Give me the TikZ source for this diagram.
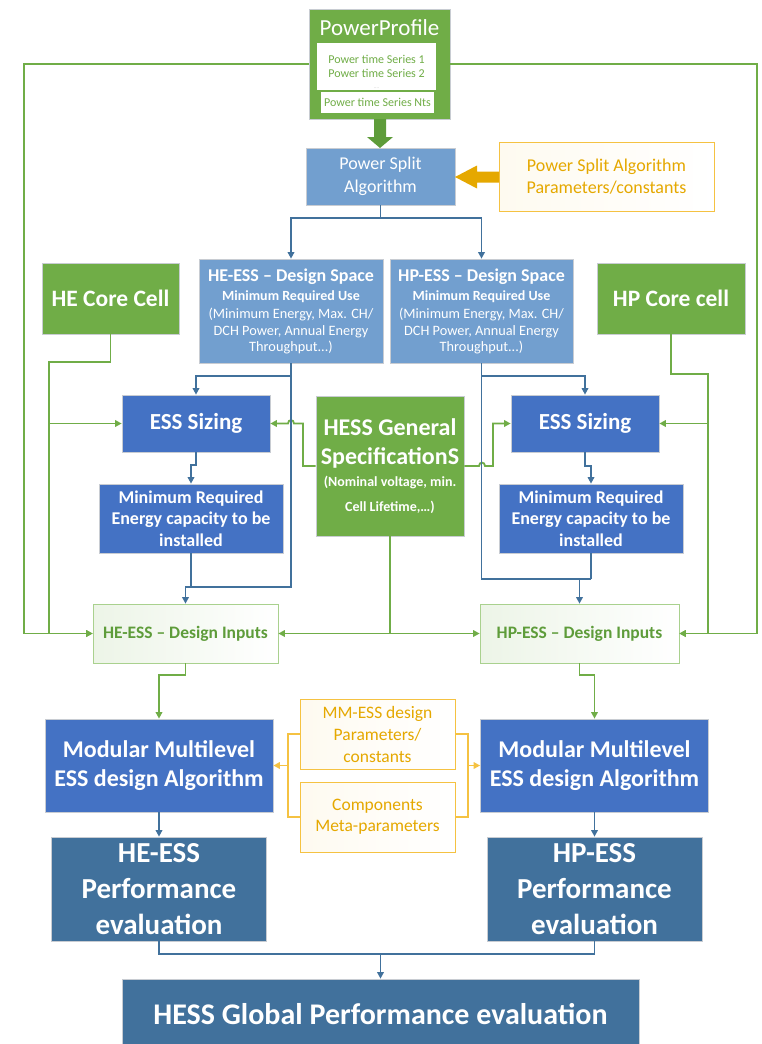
\documentclass[tikz,border=0pt]{standalone}
\usepackage{fontspec}
\setmainfont{Carlito}
\usetikzlibrary{arrows.meta}
\definecolor{grn}{HTML}{70AD47}
\definecolor{grnd}{HTML}{5E9C3A}
\definecolor{grnl}{HTML}{A9D18E}
\definecolor{lblue}{HTML}{729FCF}
\definecolor{mblue}{HTML}{4472C4}
\definecolor{sblue}{HTML}{41719C}
\definecolor{gold}{HTML}{F5C242}
\definecolor{goldt}{HTML}{E5A800}
\definecolor{edge}{HTML}{C8CCD2}
\newcommand\fsz[2]{\fontsize{#1}{#2}\selectfont}
\begin{document}
\begin{tikzpicture}[x=1pt,y=-1pt,
  wh/.style 2 args={minimum width=#1pt,minimum height=#2pt},
  box/.style={draw=edge,line width=0.7pt,inner sep=0pt,align=center,text=white},
  tx/.style={inner sep=0pt,align=center},
  gl/.style={draw=grn,line width=1.8pt},
  bl/.style={draw=sblue,line width=1.8pt},
  ol/.style={draw=gold,line width=1.8pt},
  tip/.style={-{Triangle[length=6.5pt,width=6.5pt]}}]
\useasboundingbox (0,0) rectangle (762,1044);

% ---------- power profile ----------
\node[box,fill=grn,wh={141}{110}] (pp) at (379.5,64) {};
\node[fill=white,inner sep=0pt,wh={119}{47}] (ppa) at (376.5,66.5) {};
\node[fill=white,inner sep=0pt,wh={113}{21}] (ppb) at (377.5,102.5) {};
\node[tx,text=white,font=\fsz{23}{25}] (ppt) at (379.5,28) {PowerProfile};
\node[tx,text=grn,font=\fsz{12}{14}] (pps) at (376.5,66) {Power time Series 1\\Power time Series 2};
\node[tx,text=gray!50,font=\fsz{5}{6}] (ppd) at (376.5,88) {....};
\node[tx,text=grn,font=\fsz{12}{14}] (ppn) at (377.5,102) {Power time Series Nts};

% ---------- power split ----------
\node[box,fill=lblue,wh={149}{57},font=\fsz{18}{23}] (psa) at (380.5,176.5) {Power Split\\Algorithm};
\node[box,draw=gold,left color=gold!8,right color=white,wh={215}{69},text=goldt,font=\fsz{18}{22}] (psp) at (606.5,176.5) {Power Split Algorithm\\Parameters/constants};

% block arrows
\fill[grnd] (374,119) -- (386,119) -- (386,137) -- (393,137) -- (380,148) -- (367,137) -- (374,137) -- cycle;
\fill[goldt] (499,171.5) -- (477,171.5) -- (477,165.5) -- (455,177) -- (477,188.5) -- (477,182.5) -- (499,182.5) -- cycle;

% ---------- design spaces ----------
\node[box,fill=lblue,wh={184}{104}] (heds) at (291,311) {};
\node[box,fill=lblue,wh={183}{104}] (hpds) at (481.5,311) {};
\foreach \n/\cx/\lab in {a/291/HE, b/481.5/HP}{
  \node[tx,text=white,font=\fsz{18}{20}\bfseries] (dst\n) at (\cx,277) {\lab-ESS -- Design Space};
  \node[tx,text=white,font=\fsz{14}{15}\bfseries] (dsu\n) at (\cx,297) {Minimum Required Use};
  \node[tx,text=white,font=\fsz{14.3}{16.5}] (dsl\n) at (\cx,331) {(Minimum Energy, Max. CH/\\DCH Power, Annual Energy\\Throughput...)};
}

% ---------- core cells ----------
\node[box,fill=grn,wh={137}{71},font=\fsz{23.5}{26}\bfseries] (hecore) at (110.5,298.5) {HE Core Cell};
\node[box,fill=grn,wh={148}{71},font=\fsz{23.5}{26}\bfseries] (hpcore) at (671,298.5) {HP Core cell};

% ---------- sizing ----------
\node[box,fill=mblue,wh={148}{57},font=\fsz{23}{24}\bfseries] (hesz) at (196,423.5) {ESS Sizing};
\node[box,fill=mblue,wh={148}{57},font=\fsz{23}{24}\bfseries] (hpsz) at (585,423.5) {ESS Sizing};
\node[box,fill=mblue,wh={184}{69},font=\fsz{18}{21.5}\bfseries] (hemin) at (191,518.5) {Minimum Required\\Energy capacity to be\\installed};
\node[box,fill=mblue,wh={184}{69},font=\fsz{18}{21.5}\bfseries] (hpmin) at (591,518.5) {Minimum Required\\Energy capacity to be\\installed};

% ---------- general specifications ----------
\node[box,fill=grn,wh={148}{140}] (hess) at (390,466) {};
\node[tx,text=white,font=\fsz{24}{29}\bfseries] (hesst) at (390,443.5) {HESS General\\SpecificationS};
\node[tx,text=white,font=\fsz{14}{25}\bfseries] (hesss) at (390,494.5) {(Nominal voltage, min.\\Cell Lifetime,\dots)};

% ---------- design inputs ----------
\node[box,draw=grnl,left color=grn!13,right color=white,wh={185}{59},text=grnd,font=\fsz{17.5}{20}\bfseries] (hedi) at (185.5,633.5) {HE-ESS -- Design Inputs};
\node[box,draw=grnl,left color=grn!13,right color=white,wh={199}{59},text=grnd,font=\fsz{17.5}{20}\bfseries] (hpdi) at (579.5,633.5) {HP-ESS -- Design Inputs};

% ---------- modular multilevel ----------
\node[box,fill=mblue,wh={228}{93},font=\fsz{24}{29}\bfseries] (hemm) at (159,765.5) {Modular Multilevel\\ESS design Algorithm};
\node[box,fill=mblue,wh={228}{93},font=\fsz{24}{29}\bfseries] (hpmm) at (594.5,765.5) {Modular Multilevel\\ESS design Algorithm};
\node[box,draw=gold,left color=gold!8,right color=white,wh={155}{70},text=goldt,font=\fsz{17.5}{22}] (mmp) at (377.5,734) {MM-ESS design\\Parameters/\\constants};
\node[box,draw=gold,left color=gold!8,right color=white,wh={155}{70},text=goldt,font=\fsz{17.5}{21}] (comp) at (377.5,817) {Components\\Meta-parameters};

% ---------- performance ----------
\node[box,fill=sblue,wh={215}{104},font=\fsz{29}{36}\bfseries] (heperf) at (159,889) {HE-ESS\\Performance\\evaluation};
\node[box,fill=sblue,wh={215}{104},font=\fsz{29}{36}\bfseries] (hpperf) at (594.5,889) {HP-ESS\\Performance\\evaluation};
\node[box,fill=sblue,wh={517}{70},font=\fsz{30}{32}\bfseries] (glob) at (380.5,1014) {HESS Global Performance evaluation};

% ---------- green connectors ----------
\draw[gl,tip] (pp.west) -- ++(-285,0) |- (hedi.west);
\draw[gl,tip] (pp.east) -- ++(307,0) |- (hpdi.east);
\draw[gl,tip] (hecore.south) |- (49,362) |- (hedi.west);
\coordinate (lj) at (49,423.5);
\draw[gl,tip] (lj) -- (hesz.west);
\draw[gl,tip] (hpcore.south) |- (708,374) |- (hpdi.east);
\coordinate (rj) at (708,423.5);
\draw[gl,tip] (rj) -- (hpsz.east);
\draw[gl,tip] (hess.west) -- (303,466) -- (303,423.5) -- (294,423.5)
   .. controls (294,419) and (288,419) .. (288,423.5) -- (hesz.east);
\draw[gl,tip] (hess.east) -- (479,466) .. controls (479,461.5) and (485,461.5) .. (485,466)
   -- (493,466) -- (493,423.5) -- (hpsz.west);
\coordinate (gj) at (390,633.5);
\draw[gl] (hess.south) -- (gj);
\draw[gl,tip] (gj) -- (hedi.east);
\draw[gl,tip] (gj) -- (hpdi.west);
\draw[gl,tip] (hedi.south) -- ++(0,12) -| (hemm.north);
\draw[gl,tip] (hpdi.south) -- ++(0,12) -| (hpmm.north);

% ---------- blue connectors ----------
\draw[bl] (psa.south) -- ++(0,12.5) coordinate (sp);
\draw[bl,tip] (sp) -| (heds.north);
\draw[bl,tip] (sp) -| (hpds.north);
\draw[bl,tip] (heds.south) -- (291,587) -| (hedi.north);
\draw[bl,tip] (291,376) -| (hesz.north);
\draw[bl,tip] (hesz.south) -- ++(0,13) -| (hemin.north);
\draw[bl] (hemin.south) -- (191,587);
\draw[bl] (hpds.south) -- (481.5,579) -- (591,579);
\coordinate (bj) at (579.5,579);
\draw[bl,tip] (bj) -- (hpdi.north);
\draw[bl,tip] (481.5,376) -| (hpsz.north);
\draw[bl,tip] (hpsz.south) -- ++(0,14) -| (hpmin.north);
\draw[bl] (hpmin.south) -- (591,579);
\draw[bl,tip] (hemm.south) -- (heperf.north);
\draw[bl,tip] (hpmm.south) -- (hpperf.north);
\draw[bl] (heperf.south) -- ++(0,13) -| (hpperf.south);
\coordinate (pj) at (380.5,954);
\draw[bl,tip] (pj) -- (glob.north);

% ---------- orange connectors ----------
\draw[ol] (mmp.west) -| (288,817) -- (comp.west);
\coordinate (oj) at (288,765.5);
\draw[ol,tip] (oj) -- (hemm.east);
\draw[ol] (mmp.east) -| (468,817) -- (comp.east);
\coordinate (oj2) at (468,765.5);
\draw[ol,tip] (oj2) -- (hpmm.west);
\end{tikzpicture}
\end{document}
